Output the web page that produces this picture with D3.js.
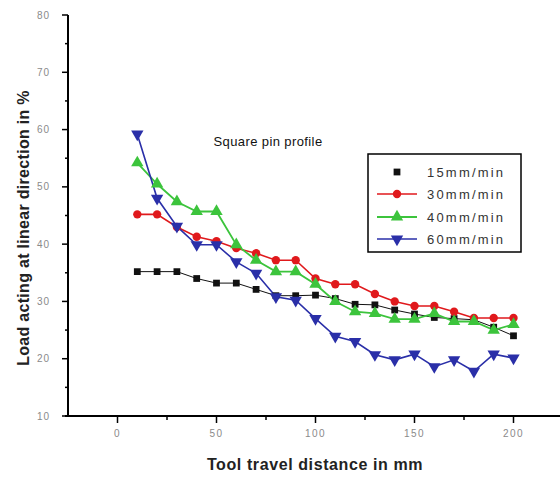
<!DOCTYPE html>
<html>
<head>
<meta charset="utf-8">
<script src="https://cdn.jsdelivr.net/npm/d3@7"></script>
<style>
  html, body { margin: 0; padding: 0; background: #fff; }
  svg { display: block; }
</style>
</head>
<body>
<svg id="chart" width="560" height="478"></svg>
<script>
// ---- data ----
const distance = [10, 20, 30, 40, 50, 60, 70, 80, 90, 100, 110, 120, 130, 140, 150, 160, 170, 180, 190, 200];
const load15 = [35.2, 35.2, 35.2, 34.0, 33.2, 33.2, 32.1, 31.0, 31.0, 31.1, 30.5, 29.5, 29.4, 28.5, 27.8, 27.2, 27.0, 26.8, 25.5, 24.0];
const load30 = [45.2, 45.2, 43.0, 41.3, 40.5, 39.3, 38.4, 37.2, 37.2, 34.0, 33.0, 33.0, 31.3, 30.0, 29.2, 29.2, 28.2, 27.1, 27.1, 27.1];
const load40 = [54.2, 50.5, 47.4, 45.7, 45.7, 39.9, 37.2, 35.2, 35.2, 33.0, 30.0, 28.2, 27.9, 26.9, 26.9, 27.9, 26.5, 26.5, 25.0, 26.0];
const load60 = [59.2, 48.0, 43.1, 39.9, 39.9, 36.9, 34.9, 30.8, 30.2, 27.0, 23.9, 23.0, 20.7, 19.8, 20.8, 18.6, 19.8, 17.8, 20.8, 20.1];
const seriesNames = ["15mm/min", "30mm/min", "40mm/min", "60mm/min"];
const xTickLabels = [0, 50, 100, 150, 200];
const yTickLabels = [10, 20, 30, 40, 50, 60, 70, 80];
const chartTitle = "Square pin profile";
const xTitle = "Tool travel distance in mm";
const yTitle = "Load acting at linear direction in %";

// ---- layout ----
const FONT = "Liberation Sans, Arial, sans-serif";
const svg = d3.select("#chart");
const x = d3.scaleLinear().domain([-25, 225]).range([68, 563]);
const y = d3.scaleLinear().domain([10, 80]).range([416, 15]);

const series = [
  { name: seriesNames[0], values: load15, color: "#111111", sym: d3.symbolSquare, size: 46, rot: 0, lw: 1, legendLine: false },
  { name: seriesNames[1], values: load30, color: "#e0191c", sym: d3.symbolCircle, size: 55, rot: 0, lw: 1.6, legendLine: true },
  { name: seriesNames[2], values: load40, color: "#3cc43c", sym: d3.symbolTriangle, size: 66, rot: 0, lw: 1.8, legendLine: true },
  { name: seriesNames[3], values: load60, color: "#2a2fa8", sym: d3.symbolTriangle, size: 66, rot: 180, lw: 1.6, legendLine: true }
];

// ---- axes ----
const tickGray = "#8a8a8a";
const gy = svg.append("g");
gy.append("line").attr("x1", x(-25)).attr("x2", x(-25)).attr("y1", y(80)).attr("y2", y(10))
  .attr("stroke", "#000").attr("stroke-width", 2);
d3.range(10, 80.1, 5).forEach(v => {
  const major = v % 10 === 0;
  gy.append("line").attr("x1", x(-25) - (major ? 6 : 3)).attr("x2", x(-25))
    .attr("y1", y(v)).attr("y2", y(v)).attr("stroke", "#000").attr("stroke-width", 1.5);
});
yTickLabels.forEach(v => {
  gy.append("text").attr("x", x(-25) - 18).attr("y", y(v) + 3.5)
    .attr("text-anchor", "end").attr("font-family", FONT)
    .attr("font-size", 10).attr("letter-spacing", 1).attr("fill", tickGray).text(v);
});
const gx = svg.append("g");
gx.append("line").attr("x1", 65).attr("x2", 560).attr("y1", y(10)).attr("y2", y(10))
  .attr("stroke", "#000").attr("stroke-width", 2);
d3.range(0, 200.1, 25).forEach(v => {
  const major = v % 50 === 0;
  gx.append("line").attr("x1", x(v)).attr("x2", x(v))
    .attr("y1", y(10)).attr("y2", y(10) + (major ? 7 : 4))
    .attr("stroke", "#000").attr("stroke-width", 1.5);
});
xTickLabels.forEach(v => {
  gx.append("text").attr("x", x(v)).attr("y", y(10) + 21)
    .attr("text-anchor", "middle").attr("font-family", FONT)
    .attr("font-size", 10).attr("letter-spacing", 1.5).attr("fill", tickGray).text(v);
});

// titles
svg.append("text").attr("x", 315).attr("y", 470).attr("text-anchor", "middle")
  .attr("font-family", FONT).attr("font-weight", "bold")
  .attr("font-size", 16).attr("letter-spacing", 0.6).attr("fill", "#222").text(xTitle);
svg.append("text").attr("transform", "translate(29,228) rotate(-90)").attr("text-anchor", "middle")
  .attr("font-family", FONT).attr("font-weight", "bold")
  .attr("font-size", 16).attr("letter-spacing", 0.3).attr("fill", "#222").text(yTitle);
svg.append("text").attr("x", 268).attr("y", 146).attr("text-anchor", "middle")
  .attr("font-family", FONT).attr("letter-spacing", 0.4)
  .attr("font-size", 13).attr("fill", "#111").text(chartTitle);

// ---- series ----
const line = d3.line().x(d => x(d[0])).y(d => y(d[1]));
series.forEach(s => {
  const pts = distance.map((d, i) => [d, s.values[i]]);
  svg.append("path").datum(pts).attr("d", line).attr("fill", "none")
    .attr("stroke", s.color).attr("stroke-width", s.lw);
});
series.forEach(s => {
  const pts = distance.map((d, i) => [d, s.values[i]]);
  svg.append("g").selectAll("path").data(pts).join("path")
    .attr("d", d3.symbol().type(s.sym).size(s.size))
    .attr("transform", d => `translate(${x(d[0])},${y(d[1])}) rotate(${s.rot})`)
    .attr("fill", s.color);
});

// ---- legend ----
const lg = svg.append("g");
lg.append("rect").attr("x", 368).attr("y", 154).attr("width", 153).attr("height", 98)
  .attr("fill", "#fff").attr("stroke", "#000").attr("stroke-width", 1.5);
const rowY = [172, 194, 217, 239];
series.forEach((s, i) => {
  if (s.legendLine) {
    lg.append("line").attr("x1", 377).attr("x2", 417).attr("y1", rowY[i]).attr("y2", rowY[i])
      .attr("stroke", s.color).attr("stroke-width", s.lw);
  }
  lg.append("path").attr("d", d3.symbol().type(s.sym).size(s.size))
    .attr("transform", `translate(397,${rowY[i]}) rotate(${s.rot})`).attr("fill", s.color);
  lg.append("text").attr("x", 427).attr("y", rowY[i] + 4.5)
    .attr("font-family", FONT).attr("font-size", 13).attr("letter-spacing", 2.2)
    .attr("fill", "#333").text(s.name);
});
</script>
</body>
</html>
